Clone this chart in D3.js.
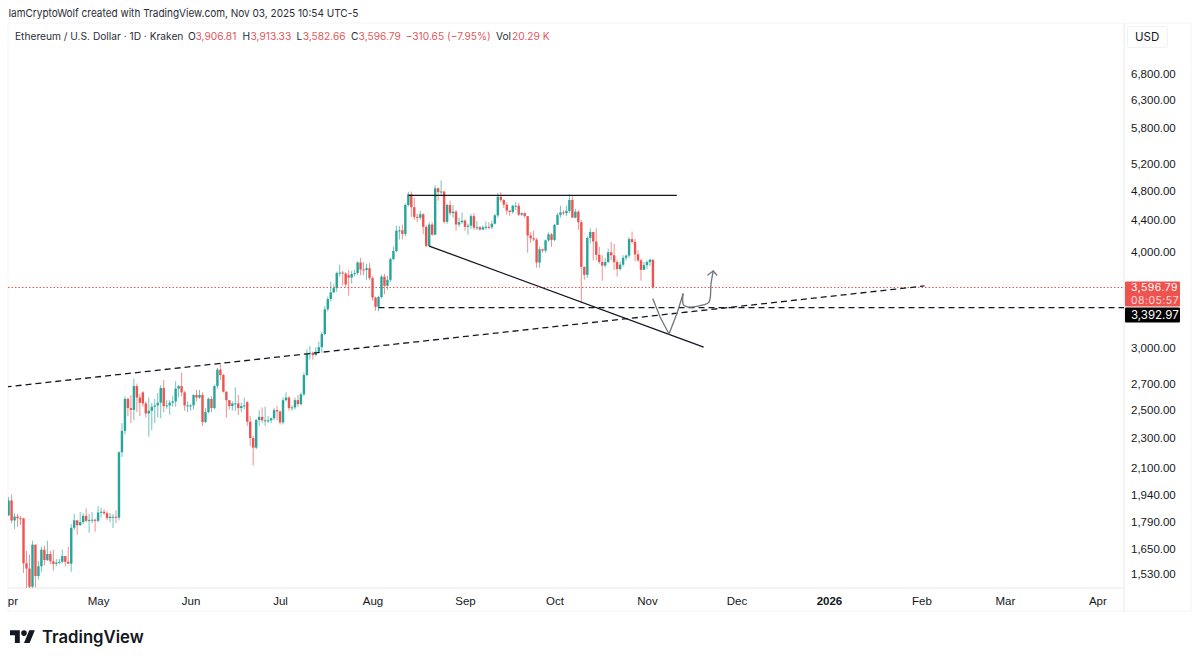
<!DOCTYPE html>
<html lang="en">
<head>
    <meta charset="UTF-8">
    <title>Ethereum / U.S. Dollar</title>
    <script src="https://cdn.jsdelivr.net/npm/d3@7"></script>
    <style>
        html, body { margin: 0; padding: 0; background: #fff; }
        svg { display: block; font-family: Inter, Roboto, sans-serif; }
        .price-axis text, .time-axis text { font-size: 11.5px; fill: #131722; }
    </style>
</head>
<body>
<svg id="chart" width="1200" height="662"></svg>

<script>
    const firstDay = "2025-04-01";

    // daily candles Apr 1 - Nov 3 2025, one line per month
    const opens = [
        1822,1905,1795,1816,1807,1806,1580,1555,1473,1670,1521,1566,1645,1595,1624,1589,1577,1583,1587,1614,1587,1578,1756,1796,1770,1786,1820,1793,1798,1799,
        1793,1838,1842,1834,1808,1815,1815,1810,2200,2345,2580,2510,2496,2680,2590,2630,2545,2470,2490,2520,2530,2550,2665,2525,2530,2550,2560,2660,2680,2630,2530,
        2530,2530,2610,2590,2610,2408,2480,2580,2510,2680,2815,2770,2635,2570,2525,2545,2545,2510,2525,2555,2410,2295,2230,2422,2445,2420,2420,2420,2435,2495,
        2485,2405,2570,2590,2510,2515,2570,2540,2615,2770,2950,2960,2940,2970,3010,3130,3370,3475,3545,3590,3755,3760,3750,3730,3705,3745,3755,3875,3795,3790,3810,
        3700,3490,3395,3495,3715,3615,3680,3915,4010,4260,4265,4220,4600,4750,4570,4440,4430,4475,4310,4070,4340,4210,4835,4780,4790,4375,4600,4490,4510,4340,4370,
        4390,4310,4325,4450,4300,4305,4275,4305,4310,4305,4350,4460,4715,4670,4605,4525,4505,4590,4590,4470,4490,4450,4200,4165,4150,3875,4030,4015,4140,4215,
        4145,4335,4465,4500,4490,4520,4670,4430,4510,4370,3825,3735,4170,4245,4125,3965,3880,3840,3880,3995,3960,3880,3800,3850,3930,3955,4155,4120,3970,3900,3790,
        3845,3880,3906.81
    ];
    const highs = [
        1925,1940,1835,1830,1820,1810,1640,1620,1690,1670,1590,1660,1665,1690,1640,1645,1600,1600,1645,1615,1660,1775,1830,1790,1840,1835,1860,1830,1840,1805,
        1875,1865,1855,1845,1835,1830,1850,2205,2400,2600,2590,2610,2740,2700,2620,2640,2560,2590,2550,2580,2625,2688,2730,2570,2570,2600,2720,2690,2790,2640,2560,
        2540,2615,2650,2650,2630,2510,2590,2600,2690,2830,2870,2780,2640,2570,2560,2670,2610,2550,2590,2560,2450,2310,2430,2495,2515,2520,2450,2440,2510,2525,
        2490,2590,2630,2600,2530,2590,2610,2630,2790,2990,3020,2970,3010,3060,3150,3400,3500,3660,3630,3770,3850,3780,3765,3790,3780,3790,3890,3930,3880,3860,3870,
        3720,3500,3510,3735,3745,3725,3930,4065,4325,4320,4340,4620,4785,4790,4700,4480,4520,4490,4330,4370,4370,4880,4850,4950,4790,4620,4660,4600,4530,4430,4500,
        4410,4350,4480,4490,4385,4320,4330,4380,4370,4390,4480,4770,4780,4680,4640,4520,4600,4640,4630,4500,4500,4450,4240,4260,4170,4060,4040,4150,4240,4230,
        4350,4490,4590,4530,4590,4750,4720,4550,4530,4400,3830,4190,4290,4220,4290,4060,3960,3930,4040,4120,4095,3910,3890,3960,3970,4180,4250,4160,4020,3920,3880,
        3900,3920,3913.33
    ];
    const lows = [
        1820,1780,1750,1760,1770,1535,1410,1450,1385,1470,1505,1540,1570,1590,1575,1545,1565,1575,1580,1565,1575,1540,1745,1720,1765,1775,1785,1730,1780,1735,
        1785,1810,1825,1795,1785,1755,1780,1795,2170,2320,2450,2400,2420,2480,2450,2520,2440,2305,2350,2400,2440,2435,2480,2505,2460,2520,2520,2590,2600,2490,2480,
        2490,2500,2560,2580,2380,2400,2470,2480,2500,2660,2730,2630,2440,2500,2490,2490,2460,2480,2500,2380,2240,2115,2220,2380,2400,2380,2400,2400,2420,2420,
        2390,2390,2560,2490,2490,2500,2520,2530,2600,2760,2900,2900,2930,2960,2960,3120,3350,3450,3540,3550,3715,3620,3600,3510,3640,3720,3730,3730,3730,3680,3675,
        3460,3355,3350,3480,3525,3570,3655,3900,3995,4150,4150,4190,4580,4440,4400,4370,4400,4220,4060,4060,4200,4210,4660,4730,4350,4350,4460,4430,4260,4310,4350,
        4260,4210,4280,4270,4270,4260,4270,4270,4280,4280,4340,4430,4640,4560,4470,4450,4480,4530,4450,4450,4430,3990,4110,4130,3815,3815,3990,3990,4120,4060,
        4130,4340,4430,4460,4450,4490,4430,4420,4270,3435,3680,3700,4100,3900,3900,3860,3670,3820,3870,3900,3790,3715,3780,3830,3900,3930,4100,3890,3880,3670,3790,
        3800,3835,3582.66
    ];
    const closes = [
        1905,1795,1816,1807,1806,1580,1555,1473,1670,1521,1566,1645,1595,1624,1589,1577,1583,1587,1614,1587,1578,1756,1796,1770,1786,1820,1793,1798,1799,1793,
        1838,1842,1834,1808,1815,1815,1810,2200,2345,2580,2510,2496,2680,2590,2550,2545,2470,2490,2520,2530,2550,2665,2525,2530,2550,2560,2660,2680,2630,2530,2530,
        2530,2610,2590,2610,2408,2480,2580,2510,2680,2815,2770,2635,2570,2525,2545,2545,2510,2525,2530,2410,2295,2230,2422,2445,2420,2420,2420,2435,2495,2485,
        2405,2570,2590,2510,2515,2570,2540,2615,2770,2950,2960,2940,2970,3010,3130,3370,3475,3545,3590,3755,3760,3750,3630,3705,3745,3755,3875,3795,3790,3810,3700,
        3490,3395,3495,3715,3615,3680,3915,4010,4260,4265,4220,4600,4750,4570,4440,4430,4475,4310,4070,4340,4210,4835,4780,4790,4375,4600,4490,4510,4340,4370,4390,
        4310,4325,4450,4300,4305,4275,4305,4310,4305,4350,4460,4715,4670,4605,4525,4505,4590,4590,4470,4490,4450,4200,4165,4150,3875,4030,4015,4140,4215,4145,
        4335,4465,4500,4490,4520,4670,4430,4510,4370,3825,3735,4170,4245,4125,3965,3880,3840,3880,3995,3960,3880,3800,3850,3930,3955,4155,4120,3970,3900,3790,3845,
        3880,3907,3596.79
    ];

    const priceTicks = [6800, 6300, 5800, 5200, 4800, 4400, 4000, 3000, 2700, 2500, 2300, 2100, 1940, 1790, 1650, 1530];
    const timeTicks = ["2025-04-01", "2025-05-01", "2025-06-01", "2025-07-01", "2025-08-01", "2025-09-01", "2025-10-01", "2025-11-01", "2025-12-01", "2026-01-01", "2026-02-01", "2026-03-01", "2026-04-01"];
    const timeLabels = ["Apr", "May", "Jun", "Jul", "Aug", "Sep", "Oct", "Nov", "Dec", "2026", "Feb", "Mar", "Apr"];

    const lastPrice = 3596.79;
    const supportPrice = 3392.97;
    const supportStart = "2025-08-03";

    // drawn trend lines
    const riseDates = ["2025-03-31", "2026-02-02"];
    const risePrices = [2673, 3613];
    const topDates = ["2025-08-13", "2025-11-11"];
    const topPrices = [4735, 4735];
    const fallDates = ["2025-08-20", "2025-11-20"];
    const fallPrices = [4070, 3010];

    // hand drawn grey path, days counted from firstDay
    const dropDays = [216, 218.4, 221.4, 224.1, 226.1];
    const dropPrices = [3475, 3294, 3131, 3333, 3528];
    const baseDays = [226.1, 226.3, 228.4, 232.8, 234.8, 235.5, 236.2];
    const basePrices = [3528, 3413, 3393, 3414, 3444, 3645, 3778];
    const headDays = [234.4, 236.2, 237.4];
    const headPrices = [3733, 3778, 3733];

    // legend texts
    const legendDark = ["Ethereum / U.S. Dollar · 1D · Kraken", "O", "H", "L", "C", "Vol"];
    const legendRed = ["3,906.81", "3,913.33", "3,582.66", "3,596.79", "−310.65 (−7.95%)", "20.29 K"];

    const teal = "#26a69a", red = "#ef5350";
    const pane = { left: 8, right: 1124, top: 23, bottom: 588 };
    const legendDarkX = [15, 188, 242.6, 296.6, 351, 496];
    const legendRedX = [195.5, 250.5, 302.7, 358.6, 405.7, 512];

    const svg = d3.select("#chart");
    const parse = d3.utcParse("%Y-%m-%d");
    const start = parse(firstDay);
    const dayDate = i => new Date(start.getTime() + i * 864e5);

    const x = d3.scaleUtc()
        .domain([parse("2025-04-01"), parse("2026-04-01")])
        .range([8.6, 1097.4]);
    const y = d3.scaleLog()
        .domain([6800, 1530])
        .range([74, 574]);

    svg.append("text").attr("x", 8.4).attr("y", 17)
        .attr("font-size", 11).attr("fill", "#2a2e39")
        .attr("textLength", 350).attr("lengthAdjust", "spacingAndGlyphs")
        .text("IamCryptoWolf created with TradingView.com, Nov 03, 2025 10:54 UTC-5");

    // frame
    const frame = svg.append("g").attr("stroke", "#e6e8ee").attr("fill", "none");
    frame.append("path").attr("d", `M${pane.left},${pane.top}H1191V611H${pane.left}`).attr("stroke", "#f3f4f6");
    frame.append("line").attr("x1", pane.left).attr("x2", pane.right).attr("y1", pane.bottom).attr("y2", pane.bottom);
    frame.append("line").attr("x1", pane.right).attr("x2", pane.right).attr("y1", pane.top).attr("y2", 611);
    frame.append("line").attr("x1", pane.left).attr("x2", pane.left).attr("y1", pane.top).attr("y2", 611).attr("stroke", "#f3f4f6");

    svg.append("defs").append("clipPath").attr("id", "pane-clip").append("rect")
        .attr("x", pane.left).attr("y", pane.top)
        .attr("width", pane.right - pane.left).attr("height", pane.bottom - pane.top);
    const plot = svg.append("g").attr("clip-path", "url(#pane-clip)");

    // candles
    const candles = plot.selectAll("g.candle").data(closes).join("g").attr("class", "candle");
    const colorOf = i => closes[i] >= opens[i] ? teal : red;
    candles.append("line")
        .attr("x1", (d, i) => x(dayDate(i))).attr("x2", (d, i) => x(dayDate(i)))
        .attr("y1", (d, i) => y(highs[i])).attr("y2", (d, i) => y(lows[i]))
        .attr("stroke", (d, i) => colorOf(i)).attr("stroke-width", 1).attr("opacity", 0.65);
    candles.append("rect")
        .attr("x", (d, i) => x(dayDate(i)) - 1.2).attr("width", 2.4)
        .attr("y", (d, i) => y(Math.max(opens[i], closes[i])))
        .attr("height", (d, i) => Math.max(1, Math.abs(y(opens[i]) - y(closes[i]))))
        .attr("fill", (d, i) => colorOf(i));

    // last price and support lines
    plot.append("line").attr("x1", pane.left).attr("x2", pane.right)
        .attr("y1", Math.round(y(lastPrice)) + 0.5).attr("y2", Math.round(y(lastPrice)) + 0.5)
        .attr("stroke", red).attr("stroke-dasharray", "1.5 2").attr("stroke-width", 1);
    plot.append("line").attr("x1", x(parse(supportStart))).attr("x2", pane.right)
        .attr("y1", y(supportPrice) + 0.5).attr("y2", y(supportPrice) + 0.5)
        .attr("stroke", "#131722").attr("stroke-dasharray", "6 4").attr("stroke-width", 1.3);

    const trend = d3.line().x(d => x(d[0])).y(d => y(d[1]));
    function drawTrend(dates, prices, dash) {
        plot.append("path")
            .attr("d", trend(dates.map((d, i) => [parse(d), prices[i]])))
            .attr("fill", "none").attr("stroke", "#131722").attr("stroke-width", 1.3)
            .attr("stroke-dasharray", dash);
    }
    drawTrend(riseDates, risePrices, "6 4");
    drawTrend(topDates, topPrices, null);
    drawTrend(fallDates, fallPrices, null);

    // hand drawn path
    function drawBrush(days, prices, curve) {
        const line = d3.line().x(d => x(dayDate(d[0]))).y(d => y(d[1])).curve(curve);
        plot.append("path")
            .attr("d", line(days.map((d, i) => [d, prices[i]])))
            .attr("fill", "none").attr("stroke", "#70747c").attr("stroke-width", 1.3)
            .attr("stroke-linejoin", "round").attr("stroke-linecap", "round");
    }
    drawBrush(dropDays, dropPrices, d3.curveLinear);
    drawBrush(baseDays, basePrices, d3.curveCatmullRom);
    drawBrush(headDays, headPrices, d3.curveLinear);

    // price axis
    const priceAxis = svg.append("g").attr("class", "price-axis")
        .attr("transform", `translate(${pane.right},0)`)
        .call(d3.axisRight(y).tickValues(priceTicks).tickSize(0).tickPadding(7).tickFormat(d3.format(",.2f")));
    priceAxis.select(".domain").remove();

    // time axis
    const timeAxis = svg.append("g").attr("class", "time-axis")
        .attr("transform", `translate(0,${pane.bottom})`)
        .call(d3.axisBottom(x).tickValues(timeTicks.map(parse)).tickSize(0).tickPadding(9)
            .tickFormat((d, i) => timeLabels[i]));
    timeAxis.select(".domain").remove();
    timeAxis.attr("clip-path", "url(#time-clip)");
    timeAxis.selectAll("text").attr("font-weight", (d, i) => timeLabels[i] === "2026" ? 700 : 400);
    svg.select("defs").append("clipPath").attr("id", "time-clip").append("rect")
        .attr("x", pane.left).attr("y", 0).attr("width", pane.right - pane.left).attr("height", 30);

    // USD box
    svg.append("rect").attr("x", 1127.5).attr("y", 26.5).attr("width", 40).attr("height", 21).attr("rx", 2)
        .attr("fill", "#fff").attr("stroke", "#f1f2f5");
    svg.append("text").attr("x", 1135).attr("y", 41).attr("font-size", 11.5).attr("fill", "#131722").text("USD");

    // price tags
    const tagX = pane.right + 1, tagW = 55;
    svg.append("rect").attr("x", tagX).attr("y", y(lastPrice) - 6).attr("width", tagW).attr("height", 25).attr("rx", 1).attr("fill", red);
    svg.append("text").attr("x", tagX + 6).attr("y", y(lastPrice) + 4).attr("font-size", 10.4).attr("letter-spacing", 0.5).attr("fill", "#fff").text(d3.format(",.2f")(lastPrice));
    svg.append("text").attr("x", tagX + 6).attr("y", y(lastPrice) + 17).attr("font-size", 10.4).attr("letter-spacing", 0.5).attr("fill", "#ffdcdc").text("08:05:57");
    svg.append("rect").attr("x", tagX).attr("y", y(supportPrice) + 0.5).attr("width", tagW).attr("height", 15).attr("rx", 1).attr("fill", "#000");
    svg.append("text").attr("x", tagX + 6).attr("y", y(supportPrice) + 12).attr("font-size", 11.5).attr("fill", "#fff").text(d3.format(",.2f")(supportPrice));

    // legend line
    const legend = svg.append("g").attr("font-size", 10.2).attr("transform", "translate(0,40)");
    legendDark.forEach((d, i) => legend.append("text").attr("x", legendDarkX[i]).attr("fill", "#2a2e39").text(d));
    legendRed.forEach((d, i) => legend.append("text").attr("x", legendRedX[i]).attr("fill", "#e2585a").text(d));

    // logo
    const logo = svg.append("g").attr("transform", "translate(10,627.5) scale(0.7)").attr("fill", "#131722");
    logo.append("path").attr("d", "M14 22H7V11H0V4h14v18zM28 22h-8l7.5-18h8L28 22z");
    logo.append("circle").attr("cx", 20).attr("cy", 8).attr("r", 4);
    svg.append("text").attr("x", 42).attr("y", 642.5)
        .attr("font-size", 16.7).attr("font-weight", 600).attr("fill", "#131722").text("TradingView");
</script>
</body>
</html>
